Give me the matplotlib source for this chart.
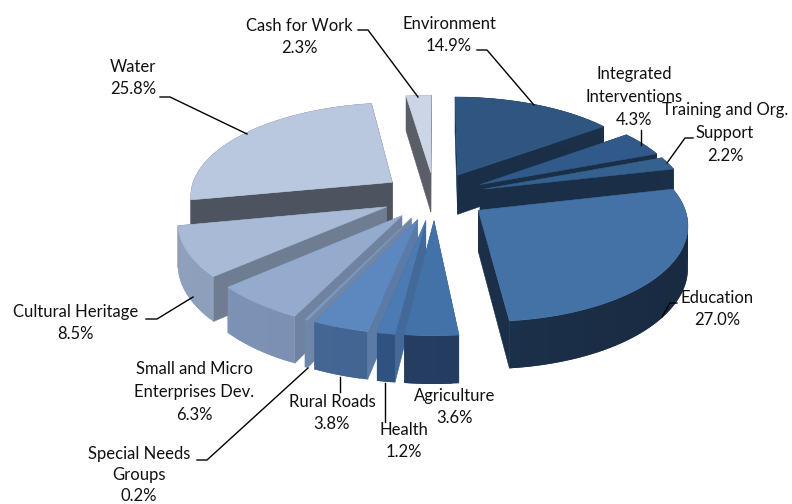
import numpy as np
import matplotlib
matplotlib.use("Agg")
import matplotlib.pyplot as plt

# ---- data -----------------------------------------------------------
categories = ["Environment", "Integrated\nInterventions", "Training and Org.\nSupport",
              "Education", "Agriculture", "Health", "Rural Roads",
              "Special Needs\nGroups", "Small and Micro\nEnterprises Dev.",
              "Cultural Heritage", "Water", "Cash for Work"]
shares = [14.9, 4.3, 2.2, 27.0, 3.6, 1.2, 3.8, 0.2, 6.3, 8.5, 25.8, 2.3]
top_colors = ["#2F5680", "#31598A", "#35618F", "#4472A6", "#4372A8", "#4C7BB4",
              "#5D88BF", "#7F9AC0", "#95ABCE", "#A8BAD6", "#B9C8DF", "#CBD5E6"]
cut_colors = ["#1A2F47", "#1A2F47", "#1A2F47", "#1B3048", "#3D6797", "#43699A",
              "#5B7AA5", "#6F86A8", "#6F83A0", "#6E7D92", "#4E5360", "#5B5E66"]
rim_left = ["#1B3048", "#1B3048", "#1B3048", "#223A5C", "#263F64", "#2F5280",
            "#466A98", "#6F86A8", "#7F93B5", "#8FA0BC", "#4E5360", "#5B5E66"]
rim_right = ["#1B3048", "#1B3048", "#1B3048", "#182A40", "#223A5C", "#2F5280",
             "#3B5B88", "#6F86A8", "#6C85AC", "#7F90AE", "#4E5360", "#5B5E66"]
label_text = ["Environment\n14.9%", "Integrated\nInterventions\n4.3%",
              "Training and Org.\nSupport\n2.2%", "Education\n27.0%",
              "Agriculture\n3.6%", "Health\n1.2%", "Rural Roads\n3.8%",
              "Special Needs\nGroups\n0.2%", "Small and Micro\nEnterprises Dev.\n6.3%",
              "Cultural Heritage\n8.5%", "Water\n25.8%", "Cash for Work\n2.3%"]
label_x = [449, 634, 725, 717, 455, 404, 332, 139, 194, 76, 133, 299]
label_y = [35, 97, 133, 309, 407, 441, 413, 475, 392, 323, 78, 37]
label_gap = [1.52, 1.52, 1.52, 1.52, 1.52, 1.52, 1.52, 1.38, 1.52, 1.52, 1.52, 1.52]
leaders = [
    [(477, 50), (487, 50), (534, 105)],
    [(641, 130), (641, 145)],
    [(693, 138), (685, 138), (667, 163)],
    [(677, 303), (670, 303), (662, 317)],
    None,
    [(385, 383), (385, 422)],
    [(340, 377), (340, 392)],
    [(197, 460), (207, 460), (308, 368)],
    None,
    [(146, 319), (157, 319), (193, 297)],
    [(160, 97), (170, 97), (247, 134)],
    [(358, 30), (368, 30), (418, 97)],
]

# ---- projection of the tilted pie -----------------------------------
CX, CY, AX, BY, PERSP, DEPTH, EXPLODE = 434.5, 196.0, 203.0, 93.0, 0.128, 40.5, 0.26


def project(x, y, drop=0.0):
    s = 1.0 / (1.0 + PERSP * np.asarray(y))
    return CX + AX * np.asarray(x) * s, CY - BY * np.asarray(y) * s + DEPTH * drop * s


def mix(c1, c2, t):
    a, b = np.array(matplotlib.colors.to_rgb(c1)), np.array(matplotlib.colors.to_rgb(c2))
    return tuple(a + (b - a) * t)


fig = plt.figure(figsize=(7.92, 5.04), dpi=100)
ax = fig.add_axes([0, 0, 1, 1])
ax.set_xlim(0, 792)
ax.set_ylim(504, 0)
ax.axis("off")


def face(px, py, color, z, lw=0.4):
    ax.fill(px, py, fc=color, ec=color if lw else "none", lw=lw, zorder=z, joinstyle="round")


edges = np.concatenate([[0], np.cumsum(shares)]) / sum(shares) * 2 * np.pi
mids = (edges[:-1] + edges[1:]) / 2
order = np.argsort(-np.cos(mids))

for rank, i in enumerate(order):
    a0, a1, mid = edges[i], edges[i + 1], mids[i]
    ox, oy = EXPLODE * np.sin(mid), EXPLODE * np.cos(mid)
    t = np.linspace(a0, a1, max(4, int((a1 - a0) * 40)))
    x, y = ox + np.sin(t), oy + np.cos(t)
    base = rank * 1000
    # radial cut faces
    for end in (0, -1):
        qx = np.array([ox, x[end], x[end], ox])
        qy = np.array([oy, y[end], y[end], oy])
        sx, sy = project(qx, qy, np.array([0, 0, 1, 1]))
        face(sx, sy, cut_colors[i], base + 1 + (1 if y[end] < oy else 0))
    # outer rim, shaded strip by strip; each strip overlaps the next one
    for k in range(len(t) - 1):
        k2 = min(k + 2, len(t) - 1)
        qx = np.concatenate([x[k:k2 + 1], x[k:k2 + 1][::-1]])
        qy = np.concatenate([y[k:k2 + 1], y[k:k2 + 1][::-1]])
        n = k2 - k + 1
        sx, sy = project(qx, qy, np.concatenate([np.zeros(n), np.ones(n)]))
        frac = (sx.mean() - CX + 260) / 520
        face(sx, sy, mix(rim_left[i], rim_right[i], float(np.clip(frac, 0, 1))), base + 3 + k * 0.001, lw=0)
    # top face
    sx, sy = project(np.concatenate([[ox], x]), np.concatenate([[oy], y]))
    face(sx, sy, top_colors[i], base + 5)

for txt, lx, ly, gap in zip(label_text, label_x, label_y, label_gap):
    ax.text(lx, ly, txt, ha="center", va="center", fontsize=12, family="Lato",
            linespacing=gap, color="#111111", zorder=50000)
for pts in leaders:
    if pts:
        ax.plot([p[0] for p in pts], [p[1] for p in pts], color="black", lw=1.0, zorder=40000)

fig.savefig("out.png", dpi=100, facecolor="white")
